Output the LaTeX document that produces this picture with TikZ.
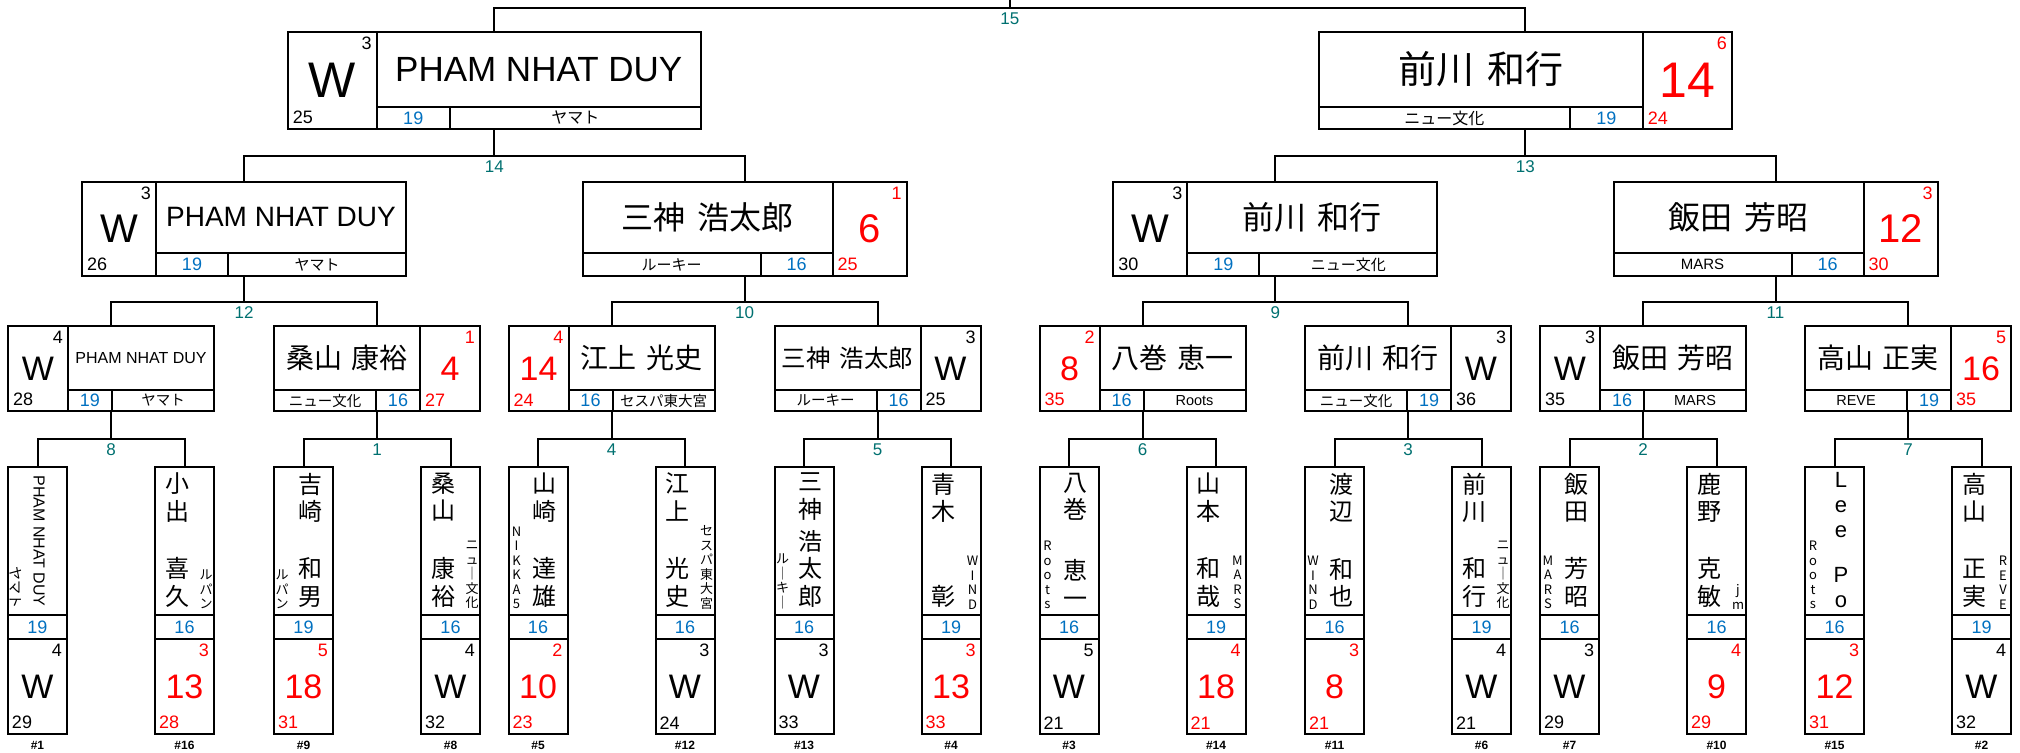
\documentclass[tikz,border=0pt]{standalone}
\usepackage{fontspec}
\setmainfont{Liberation Sans}
\newfontfamily\jp{Noto Sans CJK JP}
\usetikzlibrary{calc}
\definecolor[named]{MatchTeal}{RGB}{0,112,112}
\definecolor[named]{SeedBlue}{RGB}{0,112,192}
\definecolor[named]{LossRed}{RGB}{255,0,0}
\newcommand{\fsz}[1]{\fontsize{#1}{#1}\selectfont}
\newcommand{\fszz}[2]{\fontsize{#1}{#2}\selectfont}
\newcommand{\ksp}{\hspace{.35em}}
\tikzset{
  frame/.style={draw, line width=2pt, inner sep=0pt, outer sep=0pt},
  wire/.style={line width=2pt},
  txt/.style={inner sep=0pt, outer sep=0pt},
  matchno/.style={txt, below=5pt, text=MatchTeal, font=\fsz{17}},
  seedno/.style={txt, text=SeedBlue}
}
% level geometry: top y, height, width, score column, seed cell, lower row, big / small / team font
\newcommand{\setlevel}[9]{\def\lvTop{#1}\def\lvH{#2}\def\lvW{#3}\def\lvCol{#4}\def\lvCell{#5}%
  \def\lvRow{#6}\def\lvBig{#7}\def\lvSmall{#8}\def\lvTeam{#9}}
% upper boxes: id, centre x, score column side, name, team, seed
\newcommand{\upbox}[6]{%
  \pgfmathsetmacro{\bxL}{#2-\lvW/2}%
  \pgfmathsetmacro{\bxR}{#2+\lvW/2}%
  \pgfmathsetmacro{\bxB}{\lvTop+\lvH}%
  \pgfmathsetmacro{\bxRow}{\bxB-\lvRow}%
  \if#3L
    \pgfmathsetmacro{\bxCol}{\bxL+\lvCol}\pgfmathsetmacro{\bxCell}{\bxCol+\lvCell}%
    \pgfmathsetmacro{\bxNl}{\bxCol}\pgfmathsetmacro{\bxNr}{\bxR}%
    \pgfmathsetmacro{\bxTl}{\bxCell}\pgfmathsetmacro{\bxTr}{\bxR}%
    \pgfmathsetmacro{\bxKl}{\bxL}\pgfmathsetmacro{\bxKr}{\bxCol}%
  \else
    \pgfmathsetmacro{\bxCol}{\bxR-\lvCol}\pgfmathsetmacro{\bxCell}{\bxCol-\lvCell}%
    \pgfmathsetmacro{\bxNl}{\bxL}\pgfmathsetmacro{\bxNr}{\bxCol}%
    \pgfmathsetmacro{\bxTl}{\bxL}\pgfmathsetmacro{\bxTr}{\bxCell}%
    \pgfmathsetmacro{\bxKl}{\bxCol}\pgfmathsetmacro{\bxKr}{\bxR}%
  \fi
  \node[frame, minimum width=\lvW, minimum height=\lvH, anchor=north] (#1) at (#2,\lvTop) {};
  \draw[wire] (\bxCol,\lvTop) -- (\bxCol,\bxB);
  \draw[wire] (\bxNl,\bxRow) -- (\bxNr,\bxRow);
  \draw[wire] (\bxCell,\bxRow) -- (\bxCell,\bxB);
  \node[txt] (#1-nm) at ({(\bxNl+\bxNr)/2},{(\lvTop+\bxRow)/2}) {#4};
  \node[txt, font=\fsz{\lvTeam}] (#1-tm) at ({(\bxTl+\bxTr)/2},{(\bxRow+\bxB)/2}) {#5};
  \node[seedno, font=\fsz{\lvSmall}] (#1-no) at ({(\bxCol+\bxCell)/2},{(\bxRow+\bxB)/2}) {#6};
}
% score column of the last upper box: id, colour, games, result, points
\newcommand{\upscore}[5]{%
  \node[txt, text=#2, font=\fsz{\lvSmall}, anchor=north east] (#1-sm) at (\bxKr-5,\lvTop+5) {#3};
  \node[txt, text=#2, font=\fsz{\lvBig}] (#1-bg) at ({(\bxKl+\bxKr)/2},{\lvTop+\lvH/2}) {#4};
  \node[txt, text=#2, font=\fsz{\lvSmall}, anchor=south west] (#1-bt) at (\bxKl+5,\bxB-5) {#5};
}
% first round boxes: id, centre x, team side, seed, draw no
\newcommand{\botbox}[5]{%
  \pgfmathsetmacro{\bxL}{#2-29.5}%
  \pgfmathsetmacro{\bxR}{#2+29.5}%
  \if#3L \pgfmathsetmacro{\bxNm}{\bxL+36}\pgfmathsetmacro{\bxTm}{\bxL+8}%
  \else \pgfmathsetmacro{\bxNm}{\bxL+22}\pgfmathsetmacro{\bxTm}{\bxR-8}\fi
  \node[frame, minimum width=59, minimum height=267, anchor=north] (#1) at (#2,467) {};
  \draw[wire] (\bxL,615) -- (\bxR,615);
  \draw[wire] (\bxL,639) -- (\bxR,639);
  \node[seedno, font=\fsz{18}] (#1-no) at (#2,627) {#4};
  \node[txt, font=\bfseries\fsz{12}] (#1-lb) at (#2,745) {\##5};
}
\newcommand{\botname}[4]{%
  \node[txt, anchor=north, align=center, font=\fszz{24}{27.5}\jp] (#1-n1) at (\bxNm,473) {#2};
  \node[txt, anchor=south, align=center, font=\fszz{24}{27.5}\jp] (#1-n2) at (\bxNm,607) {#3};
  \node[txt, anchor=south, align=center, font=\fszz{13}{14.5}\jp] (#1-tm) at (\bxTm,609) {#4};
}
\newcommand{\botscore}[5]{%
  \node[txt, text=#2, font=\fsz{18}, anchor=north east] (#1-sm) at (\bxR-5,644) {#3};
  \node[txt, text=#2, font=\fsz{34}] (#1-bg) at (\bxL+29.5,687) {#4};
  \node[txt, text=#2, font=\fsz{18}, anchor=south west] (#1-bt) at (\bxL+4,729) {#5};
}
% left box, right box, winner box, wire y, match no
\newcommand{\bracket}[5]{%
  \coordinate (j#5) at (#3.south |- 0,#4);
  \draw[wire] (#1.north) |- (j#5) -| (#2.north);
  \draw[wire] (#3.south) -- (j#5);
  \node[matchno] (m#5) at (j#5) {#5};
}

\begin{document}
\begin{tikzpicture}[x=1pt,y=-1pt]
  \useasboundingbox (0,0) rectangle (2020,752);
  % Final
  \setlevel{32}{97}{413}{89}{73}{22}{50}{18}{16}
  \upbox{t1}{494.25}{L}{\fsz{35}PHAM NHAT DUY}{\jp ヤマト}{19}
  \upscore{t1}{black}{3}{W}{25}
  \upbox{t2}{1525.4}{R}{\fsz{38}\jp 前川\ksp 和行}{\jp ニュー文化}{19}
  \upscore{t2}{LossRed}{6}{14}{24}
  % Semi-finals
  \setlevel{182}{94}{324}{74}{72}{23}{40}{18}{15}
  \upbox{s1}{244}{L}{\fsz{28}PHAM NHAT DUY}{\jp ヤマト}{19}
  \upscore{s1}{black}{3}{W}{26}
  \upbox{s2}{744.5}{R}{\fsz{32}\jp 三神\ksp 浩太郎}{\jp ルーキー}{16}
  \upscore{s2}{LossRed}{1}{6}{25}
  \upbox{s3}{1275.25}{L}{\fsz{32}\jp 前川\ksp 和行}{\jp ニュー文化}{19}
  \upscore{s3}{black}{3}{W}{30}
  \upbox{s4}{1775.5}{R}{\fsz{32}\jp 飯田\ksp 芳昭}{MARS}{16}
  \upscore{s4}{LossRed}{3}{12}{30}
  % Quarter-finals
  \setlevel{326}{85}{206}{60}{44}{21}{34}{18}{14.5}
  \upbox{q1}{111}{L}{\fsz{16}PHAM NHAT DUY}{\jp ヤマト}{19}
  \upscore{q1}{black}{4}{W}{28}
  \upbox{q2}{377}{R}{\fsz{28}\jp 桑山\ksp 康裕}{\jp ニュー文化}{16}
  \upscore{q2}{LossRed}{1}{4}{27}
  \upbox{q3}{611.5}{L}{\fsz{28}\jp 江上\ksp 光史}{\jp セスパ東大宮}{16}
  \upscore{q3}{LossRed}{4}{14}{24}
  \upbox{q4}{877.5}{R}{\fsz{24.5}\jp 三神\ksp 浩太郎}{\jp ルーキー}{16}
  \upscore{q4}{black}{3}{W}{25}
  \upbox{q5}{1142.5}{L}{\fsz{28}\jp 八巻\ksp 恵一}{Roots}{16}
  \upscore{q5}{LossRed}{2}{8}{35}
  \upbox{q6}{1408}{R}{\fsz{28}\jp 前川\ksp 和行}{\jp ニュー文化}{19}
  \upscore{q6}{black}{3}{W}{36}
  \upbox{q7}{1643}{L}{\fsz{28}\jp 飯田\ksp 芳昭}{MARS}{16}
  \upscore{q7}{black}{3}{W}{35}
  \upbox{q8}{1908}{R}{\fsz{28}\jp 高山\ksp 正実}{REVE}{19}
  \upscore{q8}{LossRed}{5}{16}{35}
  % First round
  \botbox{b1}{37.5}{L}{19}{1}
  \node[txt, rotate=-90, font=\fsz{16}] (b1-n1) at (39,541) {PHAM NHAT DUY};
  \node[txt, rotate=-90, anchor=east, font=\fsz{14}\jp] (b1-tm) at (16,608) {ヤマト};
  \botscore{b1}{black}{4}{W}{29}
  \botbox{b16}{184.5}{R}{16}{16}
  \botname{b16}{小\\出}{喜\\久}{ル\\パ\\ン}
  \botscore{b16}{LossRed}{3}{13}{28}
  \botbox{b9}{303.5}{L}{19}{9}
  \botname{b9}{吉\\崎}{和\\男}{ル\\パ\\ン}
  \botscore{b9}{LossRed}{5}{18}{31}
  \botbox{b8}{450.5}{R}{16}{8}
  \botname{b8}{桑\\山}{康\\裕}{ニ\\ュ\\｜\\文\\化}
  \botscore{b8}{black}{4}{W}{32}
  \botbox{b5}{538}{L}{16}{5}
  \botname{b5}{山\\崎}{達\\雄}{N\\I\\K\\K\\A\\5}
  \botscore{b5}{LossRed}{2}{10}{23}
  \botbox{b12}{685}{R}{16}{12}
  \botname{b12}{江\\上}{光\\史}{セ\\ス\\パ\\東\\大\\宮}
  \botscore{b12}{black}{3}{W}{24}
  \botbox{b13}{804}{L}{16}{13}
  \botname{b13}{三\\神}{浩\\太\\郎}{ル\\｜\\キ\\｜}
  \botscore{b13}{black}{3}{W}{33}
  \botbox{b4}{951}{R}{19}{4}
  \botname{b4}{青\\木}{彰}{W\\I\\N\\D}
  \botscore{b4}{LossRed}{3}{13}{33}
  \botbox{b3}{1069}{L}{16}{3}
  \botname{b3}{八\\巻}{恵\\一}{R\\o\\o\\t\\s}
  \botscore{b3}{black}{5}{W}{21}
  \botbox{b14}{1216}{R}{19}{14}
  \botname{b14}{山\\本}{和\\哉}{M\\A\\R\\S}
  \botscore{b14}{LossRed}{4}{18}{21}
  \botbox{b11}{1334.5}{L}{16}{11}
  \botname{b11}{渡\\辺}{和\\也}{W\\I\\N\\D}
  \botscore{b11}{LossRed}{3}{8}{21}
  \botbox{b6}{1481.5}{R}{19}{6}
  \botname{b6}{前\\川}{和\\行}{ニ\\ュ\\｜\\文\\化}
  \botscore{b6}{black}{4}{W}{21}
  \botbox{b7}{1569.5}{L}{16}{7}
  \botname{b7}{飯\\田}{芳\\昭}{M\\A\\R\\S}
  \botscore{b7}{black}{3}{W}{29}
  \botbox{b10}{1716.5}{R}{16}{10}
  \botname{b10}{鹿\\野}{克\\敏}{j\\m}
  \botscore{b10}{LossRed}{4}{9}{29}
  \botbox{b15}{1834.5}{L}{16}{15}
  \node[txt, anchor=north, align=center, font=\fszz{22}{25}] (b15-n1) at (\bxNm,472) {L\\e\\e};
  \node[txt, anchor=south, align=center, font=\fszz{22}{25}] (b15-n2) at (\bxNm,608) {P\\o};
  \node[txt, anchor=south, align=center, font=\fszz{13}{14.5}\jp] (b15-tm) at (\bxTm,609) {R\\o\\o\\t\\s};
  \botscore{b15}{LossRed}{3}{12}{31}
  \botbox{b2}{1981.5}{R}{19}{2}
  \botname{b2}{高\\山}{正\\実}{R\\E\\V\\E}
  \botscore{b2}{black}{4}{W}{32}
  % Wires
  \path (t1.north) -- coordinate (c15) (t2.north);
  \coordinate (j15) at (c15 |- 0,8);
  \coordinate (root) at (c15 |- 0,0);
  \draw[wire] (t1.north) |- (j15) -| (t2.north);
  \draw[wire] (j15) -- (root);
  \node[matchno] (m15) at (j15) {15};
  \bracket{s1}{s2}{t1}{156}{14}
  \bracket{s3}{s4}{t2}{156}{13}
  \bracket{q1}{q2}{s1}{302}{12}
  \bracket{q3}{q4}{s2}{302}{10}
  \bracket{q5}{q6}{s3}{302}{9}
  \bracket{q7}{q8}{s4}{302}{11}
  \bracket{b1}{b16}{q1}{439}{8}
  \bracket{b9}{b8}{q2}{439}{1}
  \bracket{b5}{b12}{q3}{439}{4}
  \bracket{b13}{b4}{q4}{439}{5}
  \bracket{b3}{b14}{q5}{439}{6}
  \bracket{b11}{b6}{q6}{439}{3}
  \bracket{b7}{b10}{q7}{439}{2}
  \bracket{b15}{b2}{q8}{439}{7}
\end{tikzpicture}
\end{document}
